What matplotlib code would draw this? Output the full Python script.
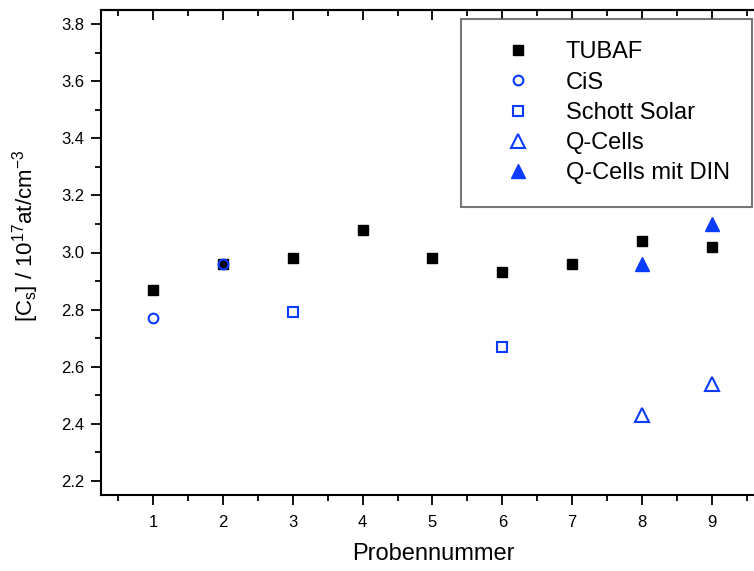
import matplotlib
matplotlib.use("Agg")
import matplotlib.pyplot as plt
from matplotlib.ticker import MultipleLocator

plt.rcParams["font.family"] = ["Liberation Sans", "DejaVu Sans"]
plt.rcParams["mathtext.fontset"] = "custom"
plt.rcParams["mathtext.rm"] = "Liberation Sans"
plt.rcParams["mathtext.it"] = "Liberation Sans"

# Probennummer vs. [Cs] in 1e17 at/cm^-3
tubaf_x = [1, 2, 3, 4, 5, 6, 7, 8, 9]
tubaf_y = [2.87, 2.96, 2.98, 3.08, 2.98, 2.93, 2.96, 3.04, 3.02]
cis_x = [1, 2]
cis_y = [2.77, 2.96]
schott_x = [3, 6]
schott_y = [2.79, 2.67]
qcells_x = [8, 9]
qcells_y = [2.43, 2.54]
qdin_x = [8, 9]
qdin_y = [2.96, 3.10]

blue = "#0a3cff"
W, H = 754, 571
fig = plt.figure(figsize=(W / 100, H / 100), dpi=100)
ax = fig.add_axes([101 / W, 1 - 495 / H, 656 / W, 485 / H])

ax.plot(tubaf_x, tubaf_y, "s", color="black", ms=7.5, label="TUBAF", zorder=3)
ax.plot(cis_x, cis_y, "o", mfc="none", mec=blue, mew=1.5, ms=7, label="CiS", zorder=4)
ax.plot(schott_x, schott_y, "s", mfc="none", mec=blue, mew=1.5, ms=7,
        label="Schott Solar", zorder=4)
ax.plot(qcells_x, qcells_y, "^", mfc="none", mec=blue, mew=1.5, ms=10,
        label="Q-Cells", zorder=4)
ax.plot(qdin_x, qdin_y, "^", color=blue, ms=10.5, label="Q-Cells mit DIN", zorder=4)

ax.set_xlim(0.25, 9.65)
ax.set_ylim(2.15, 3.85)
ax.set_xticks(range(1, 10))
ax.xaxis.set_minor_locator(MultipleLocator(0.5))
ax.yaxis.set_major_locator(MultipleLocator(0.2))
ax.yaxis.set_minor_locator(MultipleLocator(0.1))

for s in ("left", "bottom", "top"):
    ax.spines[s].set_linewidth(1.5)
ax.spines["right"].set_visible(False)

ax.tick_params(which="major", length=7.5, width=1.3, labelsize=12)
ax.tick_params(which="minor", length=4.5, width=1.3)
ax.tick_params(axis="x", which="major", pad=7)
ax.tick_params(axis="y", which="major", length=7, pad=5)
ax.tick_params(axis="y", which="minor", length=4)

top = ax.secondary_xaxis("top")
top.set_xticks(range(1, 10))
top.xaxis.set_minor_locator(MultipleLocator(0.5))
top.tick_params(which="both", direction="in", labeltop=False, width=1.3)
top.tick_params(which="major", length=7.5)
top.tick_params(which="minor", length=4.5)
top.spines["top"].set_linewidth(1.5)

ax.set_xlabel("Probennummer", fontsize=17)
ax.xaxis.set_label_coords(0.506, -0.098)
ax.set_ylabel("[C$_{\\mathrm{s}}$] / 10$^{17}$at/cm$^{-3}$", fontsize=16)
ax.yaxis.set_label_coords(-0.092, 0.535)

leg = ax.legend(loc="upper right", bbox_to_anchor=(752 / W, 1 - 19 / H),
                bbox_transform=fig.transFigure, borderaxespad=0,
                fontsize=17, frameon=True, fancybox=False, edgecolor="#555555",
                handletextpad=0.5, labelspacing=0.35, borderpad=0.95,
                handlelength=3.0)
leg.get_frame().set_linewidth(1.5)

fig.savefig("out.png", dpi=100)
